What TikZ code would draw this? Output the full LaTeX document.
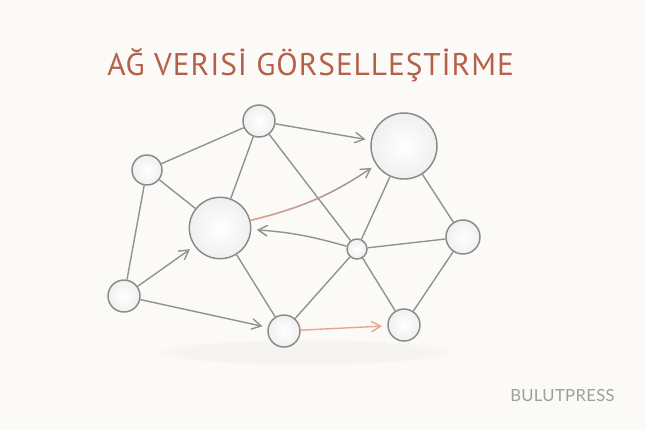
\documentclass[tikz,border=0pt]{standalone}
\usepackage{fontspec}
\setmainfont{PT Sans}
\newfontfamily\titlefont[LetterSpace=3]{PT Sans}
\newfontfamily\brandfont[LetterSpace=2]{Lato}
\usetikzlibrary{arrows.meta,fadings}
\definecolor{paper}{HTML}{FCFAF6}
\definecolor{rim}{HTML}{8A8A8A}
\definecolor{wire}{HTML}{929292}
\definecolor{rust}{HTML}{B5604A}
\definecolor{salmon}{HTML}{E9A493}
\tikzfading[name=fade right, left color=transparent!0, right color=transparent!100]

\begin{document}
\begin{tikzpicture}[x=0.75pt,y=-0.75pt,
    vertex/.style={circle, draw=rim, line width=1.1pt, inner sep=0pt, minimum size=#1,
      shading=radial, inner color=white, outer color=black!6},
    link/.style={draw=wire, line width=1.05pt},
    flow/.style={link, ->, shorten >=4pt},
    >={Straight Barb[length=7pt,width=8pt]}]
  \fill[paper] (0,0) rectangle (645,430);
  % soft shadow under the graph
  \fill[black, opacity=0.025, path fading=circle with fuzzy edge 20 percent]
    (305,352) ellipse [x radius=115pt, y radius=10pt];

  \node[anchor=base west, inner sep=0pt, text=rust, font=\titlefont\fontsize{23.5}{23.5}\selectfont]
    (title) at (107,75) {AĞ VERISİ GÖRSELLEŞTİRME};

  \node[vertex=22.5pt] (a) at (147,170) {};
  \node[vertex=24pt] (b) at (259,121) {};
  \node[vertex=46pt] (c) at (220,228) {};
  \node[vertex=49.5pt] (d) at (404,146) {};
  \node[vertex=15pt] (e) at (357,249) {};
  \node[vertex=25.5pt] (f) at (463,237) {};
  \node[vertex=24pt] (g) at (124,296) {};
  \node[vertex=24pt] (h) at (284,331) {};
  \node[vertex=24pt] (i) at (404,325) {};

  \draw[link] (a) -- (b);
  \draw[link] (a) -- (c);
  \draw[link] (a) -- (g);
  \draw[link] (b) -- (c);
  \draw[link] (b) -- (e);
  \draw[flow] (b) -- (d);
  \draw[flow] (c) to[bend right=10] (d);
  \draw[salmon, line width=1.05pt, path fading=fade right] (c) to[bend right=10] (d);
  \draw[flow] (g) -- (c);
  \draw[flow] (g) -- (h);
  \draw[link] (c) -- (h);
  \draw[flow] (e) to[bend right=6] (c);
  \draw[link] (e) -- (h);
  \draw[link] (e) -- (i);
  \draw[link] (e) -- (d);
  \draw[link] (e) -- (f);
  \draw[link] (d) -- (f);
  \draw[link] (f) -- (i);
  \draw[flow, draw=salmon] (h) -- (i);

  \node[anchor=base west, inner sep=0pt, text=black!38, font=\brandfont\fontsize{12.5}{12.5}\selectfont]
    (brand) at (510,401) {BULUTPRESS};
\end{tikzpicture}
\end{document}
